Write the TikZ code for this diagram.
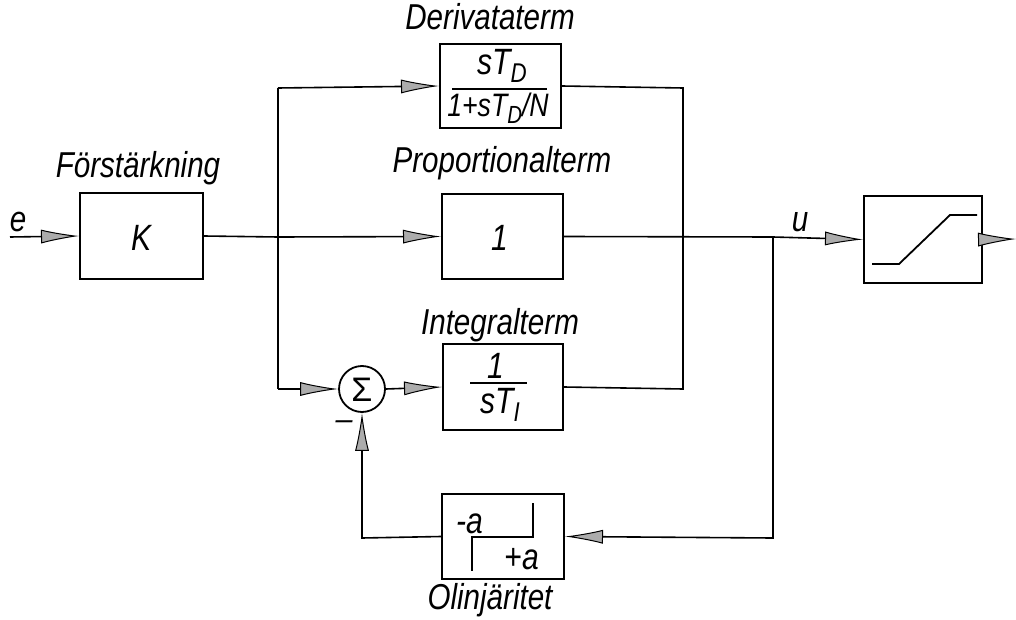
\documentclass[tikz,border=0pt]{standalone}
\usepackage{fontspec}
\setmainfont{Liberation Sans}
\usetikzlibrary{arrows.meta}
\newcommand{\tallt}[1]{\scalebox{0.97}[1.18]{#1}}
\begin{document}
\begin{tikzpicture}[x=1pt,y=-1pt,
  line width=1.6pt,
  blk/.style={draw,line width=2pt,inner sep=0pt},
  lbl/.style={font=\fontsize{30.5}{32}\selectfont\itshape,inner sep=0pt},
  txt/.style={font=\fontsize{31}{32}\selectfont\itshape,inner sep=0pt},
  arr/.style={-{Latex[length=38pt,width=14pt,fill=gray!65,line width=1pt]}},
  sumc/.style={draw,circle,line width=1.8pt,minimum size=46pt,inner sep=0pt}
]
\useasboundingbox (0,0) rectangle (1016,620);
% blocks
\node[blk,minimum width=123pt,minimum height=86pt] (K) at (141.5,236) {};
\node[txt] (Kt) at (141.5,238) {\tallt{K}};
\node[blk,minimum width=121pt,minimum height=85pt] (P) at (502.5,236.5) {};
\node[txt] (Pt) at (500,238) {\tallt{1}};
\node[blk,minimum width=121pt,minimum height=84pt] (D) at (500.5,86) {};
\node[blk,minimum width=120pt,minimum height=86pt] (I) at (503,387) {};
\node[blk,minimum width=122pt,minimum height=85pt] (N) at (503,536.5) {};
\node[blk,minimum width=118pt,minimum height=87pt] (S) at (923,239.5) {};
\node[sumc] (sum) at (362,389) {};
\node[font=\fontsize{34}{34}\selectfont,inner sep=0pt] (sig) at (362,390) {Σ};
% labels
\node[lbl] (lK) at (138,168) {\tallt{Förstärkning}};
\node[lbl] (lD) at (490,17) {\tallt{Derivataterm}};
\node[lbl] (lP) at (502,163) {\tallt{Proportionalterm}};
\node[lbl] (lI) at (500,325) {\tallt{Integralterm}};
\node[lbl] (lN) at (490,600) {\tallt{Olinjäritet}};
\node[lbl] (le) at (18,222) {\tallt{e}};
\node[lbl] (lu) at (800,222) {\tallt{u}};
\node[lbl] (lm) at (344,425) {--};
% derivative fraction
\node[txt] (Dn) at (502,66) {\tallt{sT\raisebox{-0.4ex}{\fontsize{23}{23}\selectfont D}}};
\coordinate (Dl1) at (452,89);
\coordinate (Dl2) at (547,89);
\draw[line width=1.6pt] (Dl1) -- (Dl2);
\node[font=\fontsize{27.5}{30}\selectfont\itshape,inner sep=0pt] (Dd) at (498,108) {\tallt{1+sT\raisebox{-0.4ex}{\fontsize{21}{21}\selectfont D}/N}};
% integral fraction
\node[txt] (In) at (496,366) {\tallt{1}};
\coordinate (Il1) at (470,383);
\coordinate (Il2) at (527,383);
\draw[line width=1.6pt] (Il1) -- (Il2);
\node[txt] (Id) at (500,405) {\tallt{sT\raisebox{-0.4ex}{\fontsize{23}{23}\selectfont I}}};
% relay characteristic
\node[txt] (Nm) at (470,524) {\tallt{-a}};
\node[txt] (Np) at (522,559) {\tallt{+a}};
\coordinate (r1) at (533,503);
\coordinate (r2) at (533,537);
\coordinate (r3) at (472,537);
\coordinate (r4) at (472,571);
\draw[line width=1.8pt] (r1) -- (r2) -- (r3) -- (r4);
% saturation characteristic
\coordinate (s1) at (872,264);
\coordinate (s2) at (899,264);
\coordinate (s3) at (950,215);
\coordinate (s4) at (977,215);
\draw[line width=1.8pt] (s1) -- (s2) -- (s3) -- (s4);
% coordinates
\coordinate (in) at (10,237);
\coordinate (out) at (1016,239);
\coordinate (b1) at (278,237);
\coordinate (bt) at (278,88);
\coordinate (bb) at (278,389);
\coordinate (rt) at (683,88);
\coordinate (rb) at (683,389);
\coordinate (bu) at (773,237);
\coordinate (bud) at (773,538);
\coordinate (fb) at (362,538);
% connectors
\draw[arr] (in) -- (K.west);
\draw (K.east) -- (b1);
\draw[arr] (b1) -- (P.west);
\draw (bt) -- (bb);
\draw[arr] (bt) -- (D.west);
\draw[arr] (bb) -- (sum.west);
\draw[arr] (sum.east) -- (I.west);
\draw (D.east) -- (rt) -- (rb) -- (I.east);
\draw (P.east) -- (bu);
\draw[arr] (bu) -- (S.west);
\draw[arr] (bu) -- (bud) -- (N.east);
\draw[arr] (N.west) -- (fb) -- (sum.south);
\draw[arr] (S.east) -- (out);
\end{tikzpicture}
\end{document}
